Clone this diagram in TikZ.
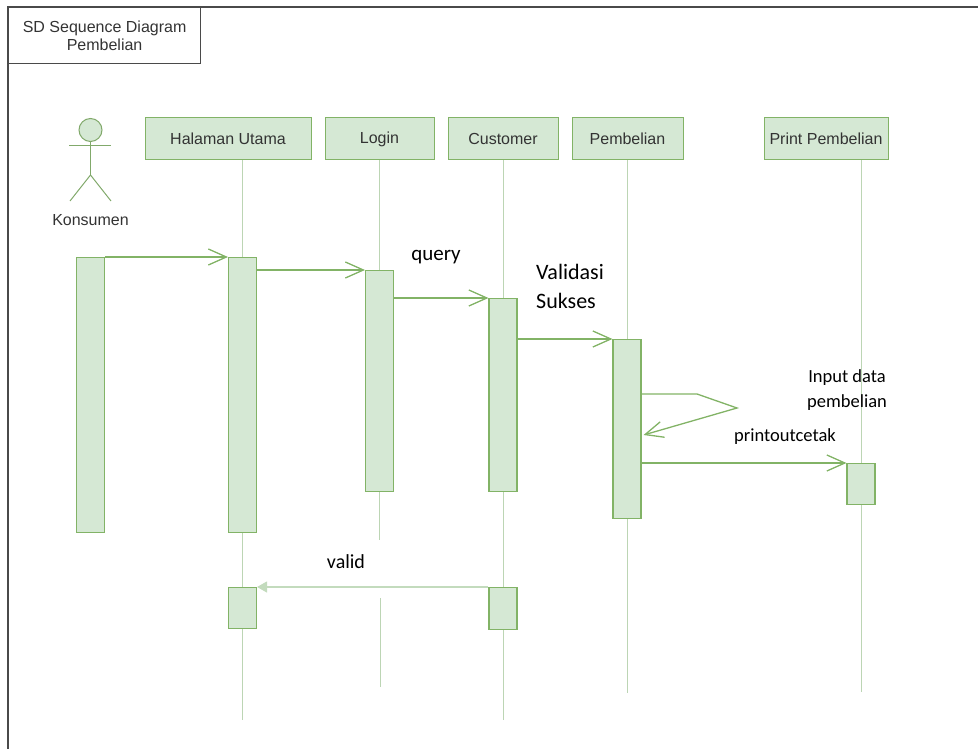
\documentclass[tikz,border=0pt]{standalone}
\usepackage{fontspec}
\usetikzlibrary{arrows.meta,calc}
\newfontfamily\hdrfont{Liberation Sans}
\newfontfamily\lblfont{Carlito}
\definecolor{gfill}{HTML}{D5E8D4}
\definecolor{gline}{HTML}{82B366}
\definecolor{glife}{HTML}{BCD5B4}
\definecolor{gpale}{HTML}{C3DBBD}
\definecolor{frm}{HTML}{4A4A4A}
\definecolor{txt}{HTML}{333333}
\tikzset{
  hdrbox/.style={draw=gline, fill=gfill, line width=1pt, minimum height=42pt, inner sep=0pt,
    text=txt, font=\hdrfont\fontsize{16}{18}\selectfont},
  actbar/.style={draw=gline, fill=gfill, line width=1.1pt, minimum width=28pt, inner sep=0pt, anchor=north},
  life/.style={draw=glife, line width=0.9pt},
  msg/.style={draw=gline, line width=1.3pt, -{Straight Barb[length=18pt,width=16pt]}},
  retmsg/.style={draw=gpale, line width=1.3pt, -{Triangle[length=10pt,width=11pt]}},
  lbl/.style={text=black, inner sep=0pt, font=\lblfont},
  frameline/.style={draw=frm, line width=1.4pt}
}
\begin{document}
\begin{tikzpicture}[x=1pt,y=-1pt]
\useasboundingbox (0,0) rectangle (978,749);
% frame
\draw[frameline] (8,749) -- (8,7) -- (978,7);
\node[draw=frm, line width=1.2pt, minimum width=192pt, minimum height=56pt, anchor=north west, inner sep=0pt,
  align=center, text=txt, font=\hdrfont\fontsize{16}{18}\selectfont] (title) at (8,7) {SD Sequence Diagram\\Pembelian};

% actor
\node[circle, draw=gline!80!gray, fill=gfill, line width=1pt, minimum size=23pt, inner sep=0pt] (head) at (90.5,130) {};
\coordinate (hip) at (90.5,175);
\draw[draw=gline!80!gray, line width=1pt] (head.south) -- (hip);
\draw[draw=gline!80!gray, line width=1pt] (69,146) -- (111,146);
\draw[draw=gline!80!gray, line width=1pt] (70,201) -- (hip) -- (111,201);
\node[text=txt, inner sep=0pt, font=\hdrfont\fontsize{16}{18}\selectfont] (konsumen) at (90.5,220) {Konsumen};

% headers
\node[hdrbox, minimum width=166pt] (hh) at (228,139) {Halaman Utama};
\node[hdrbox, minimum width=109pt] (hl) at (379.5,139) {Login};
\node[hdrbox, minimum width=110pt] (hc) at (503,139) {Customer};
\node[hdrbox, minimum width=111pt] (hp) at (627.5,139) {Pembelian};
\node[hdrbox, minimum width=124pt] (hpr) at (826,139) {Print Pembelian};

% activation bars
\node[actbar, minimum height=275pt] (kb) at (90.5,257) {};
\node[actbar, minimum height=275pt] (hb1) at (242.5,257) {};
\node[actbar, minimum height=221pt] (lb) at (379.5,270) {};
\node[actbar, minimum height=193pt] (cb) at (503,298) {};
\node[actbar, minimum height=179pt] (pb) at (627,339) {};
\node[actbar, minimum height=41pt] (prb) at (861,463) {};
\node[actbar, minimum height=41pt] (hb2) at (242.5,587) {};
\node[actbar, minimum height=42pt] (cb2) at (503,587) {};

% lifelines
\coordinate (hend) at (242.5,720);
\coordinate (lgap1) at (379.5,540);
\coordinate (lgap2) at (380.5,598);
\coordinate (lend) at (380.5,687);
\coordinate (cend) at (503,720);
\coordinate (pend) at (627,693);
\coordinate (prend) at (861,692);
\draw[life] (hh.south -| hb1.north) -- (hb1.north);
\draw[life] (hb1.south) -- (hb2.north);
\draw[life] (hb2.south) -- (hend);
\draw[life] (hl.south -| lb.north) -- (lb.north);
\draw[life] (lb.south) -- (lgap1);
\draw[life] (lgap2) -- (lend);
\draw[life] (hc.south -| cb.north) -- (cb.north);
\draw[life] (cb.south) -- (cb2.north);
\draw[life] (cb2.south) -- (cend);
\draw[life] (hp.south -| pb.north) -- (pb.north);
\draw[life] (pb.south) -- (pend);
\draw[life] (hpr.south -| prb.north) -- (prb.north);
\draw[life] (prb.south) -- (prend);

% messages
\draw[msg] (kb.north east) -- (hb1.north west);
\draw[msg] (hb1.east |- lb.north) -- (lb.north west);
\draw[msg] (lb.east |- cb.north) -- (cb.north west);
\draw[msg] (cb.east |- pb.north) -- (pb.north west);
\coordinate (s1) at (pb.east |- 0,394);
\coordinate (s2) at (697,394);
\coordinate (s3) at (737,408);
\coordinate (s4) at ($(pb.east |- 0,435)+(2,0)$);
\draw[msg] (s1) -- (s2) -- (s3) -- (s4);
\draw[msg] (pb.east |- prb.north) -- (prb.north west);
\draw[retmsg] (cb2.north west) -- (hb2.north east);

% labels
\node[lbl, font=\lblfont\fontsize{21}{24}\selectfont] (lquery) at (436,257) {query};
\node[lbl, anchor=west, align=left, font=\lblfont\fontsize{22}{29}\selectfont] (lvalidasi) at (536,286) {Validasi\\Sukses};
\node[lbl, align=center, font=\lblfont\fontsize{18.5}{25}\selectfont] (linput) at (847,390) {Input data\\pembelian};
\node[lbl, font=\lblfont\fontsize{18.5}{22}\selectfont] (lprint) at (785,437) {printoutcetak};
\node[lbl, font=\lblfont\fontsize{20}{22}\selectfont] (lvalid) at (346,562) {valid};
\end{tikzpicture}
\end{document}
